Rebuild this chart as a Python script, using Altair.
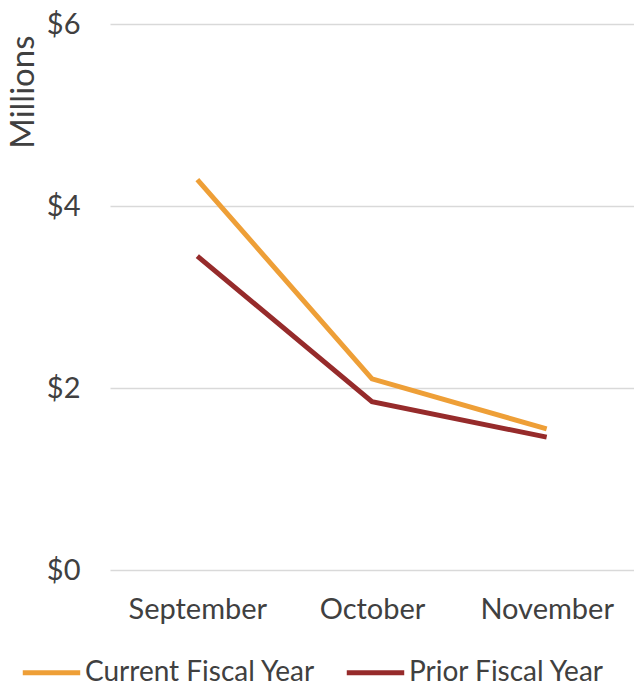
import altair as alt
import pandas as pd

months = ["September", "October", "November"]
current = [4.29, 2.10, 1.55]
prior = [3.45, 1.85, 1.46]
series_names = ["Current Fiscal Year", "Prior Fiscal Year"]
colors = ["#EE9F37", "#962B2B"]

rows = []
for m, v in zip(months, current):
    rows.append({"Month": m, "Value": v, "Series": series_names[0]})
for m, v in zip(months, prior):
    rows.append({"Month": m, "Value": v, "Series": series_names[1]})
df = pd.DataFrame(rows)

FONT = "Lato"

chart = alt.Chart(df).mark_line(strokeWidth=5, strokeCap="butt").encode(
    x=alt.X("Month:N", sort=months,
            scale=alt.Scale(type="point", padding=0.5),
            axis=alt.Axis(title=None, labelAngle=0, labelFontSize=29, labelColor="#404040",
                          labelFont=FONT, ticks=False, domain=False, grid=False,
                          labelPadding=25)),
    y=alt.Y("Value:Q", scale=alt.Scale(domain=[0, 6]),
            axis=alt.Axis(title="Millions", values=[0, 2, 4, 6], format="$.0f",
                          labelFontSize=29, labelColor="#404040", labelFont=FONT,
                          titleFont=FONT, titleFontSize=33, titleColor="#404040",
                          titleFontWeight="normal", titleAnchor="end", titleAngle=-90,
                          titleX=-103, titleY=11, titleBaseline="top",
                          ticks=False, domain=False, gridColor="#D9D9D9", gridWidth=1.5,
                          labelPadding=30)),
    color=alt.Color("Series:N", sort=series_names,
                    scale=alt.Scale(domain=series_names, range=colors),
                    legend=alt.Legend(title=None, orient="none", direction="horizontal",
                                      legendX=-90, legendY=617,
                                      symbolType="stroke", symbolStrokeWidth=5,
                                      symbolSize=3300, labelFontSize=28, labelFont=FONT,
                                      labelColor="#404040", labelOffset=2, labelLimit=400,
                                      columnPadding=20, symbolOffset=0)),
).properties(
    width=524, height=546,
    autosize=alt.AutoSizeParams(type="none"),
    padding={"left": 110, "top": 24, "right": 0, "bottom": 118},
).configure_view(stroke=None)

chart.save("out.html", embed_options={"renderer": "svg", "actions": False})
